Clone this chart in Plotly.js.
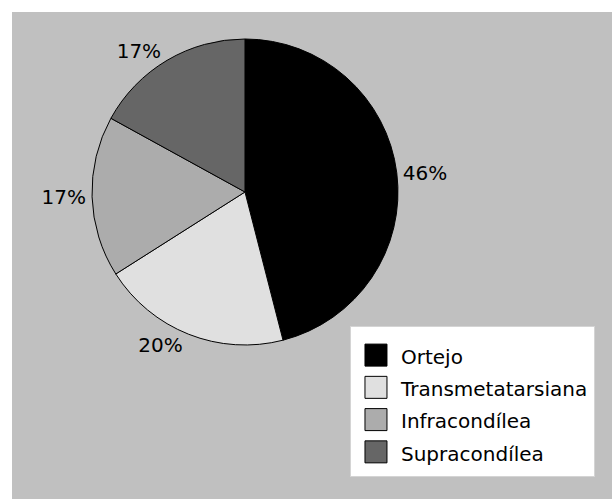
<!DOCTYPE html>
<html>
<head>
<meta charset="utf-8">
<script src="https://cdn.plot.ly/plotly-3.0.1.min.js"></script>
<style>
  html, body { margin: 0; padding: 0; background: #ffffff; }
  #chart { width: 612px; height: 499px; }
</style>
</head>
<body>
<div id="chart"></div>
<script>
const categories = ["Ortejo", "Transmetatarsiana", "Infracondílea", "Supracondílea"];
const values = [46, 20, 17, 17];
const colors = ["#000000", "#e0e0e0", "#acacac", "#666666"];

const FONT = "DejaVu Sans, Verdana, sans-serif";
const legendLabels = categories.map(c => '<span style="font-size:20px">' + c + '</span>');

const trace = {
  type: "pie",
  labels: legendLabels,
  values: values,
  sort: false,
  direction: "clockwise",
  rotation: 0,
  marker: { colors: colors, line: { color: "#000000", width: 1 } },
  textinfo: "percent",
  textposition: "outside",
  texttemplate: "%{percent:.0%}",
  textfont: { family: FONT, size: 20, color: "#000000" },
  hoverinfo: "percent",
  domain: { x: [0.1333, 0.6433], y: [0.3162, 0.9446] },
  automargin: false
};

const layout = {
  width: 612,
  height: 499,
  margin: { l: 12, r: 0, t: 12, b: 0 },
  paper_bgcolor: "#ffffff",
  font: { family: FONT, size: 20, color: "#000000" },
  showlegend: true,
  legend: {
    x: 0.5633, xanchor: "left",
    y: 0.3409, yanchor: "top",
    bgcolor: "#ffffff",
    bordercolor: "#d4d4d4",
    borderwidth: 1,
    itemwidth: 40,
    font: { family: FONT, size: 22.5, color: "#000000" }
  },
  shapes: [{
    type: "rect", xref: "paper", yref: "paper",
    x0: 0, x1: 1, y0: 0, y1: 1,
    fillcolor: "#c0c0c0", line: { width: 0 }, layer: "below"
  }]
};

Plotly.newPlot("chart", [trace], layout, { displayModeBar: false, staticPlot: true }).then(() => {
  document.querySelectorAll(".legend .legendpie").forEach(p => {
    p.setAttribute("d", "M11,11H-11V-11H11Z");
    p.style.strokeWidth = "1px";
    p.style.stroke = "#000000";
  });
  const bg = document.querySelector(".legend rect.bg");
  if (bg) {
    bg.setAttribute("y", "-6");
    bg.setAttribute("height", "150");
  }
});
</script>
</body>
</html>
